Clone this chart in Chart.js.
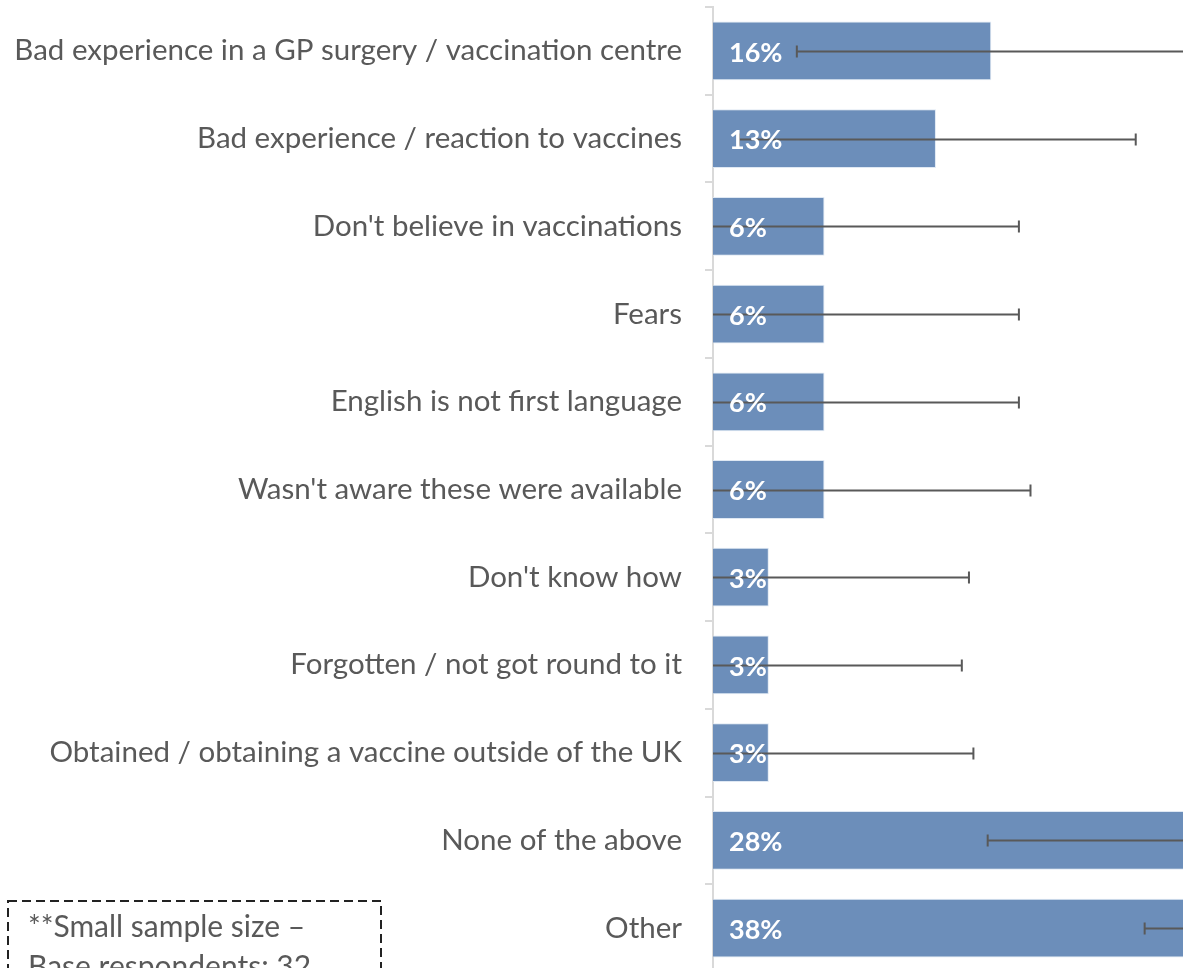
<!DOCTYPE html>
<html>
<head>
<meta charset="utf-8">
<script src="https://cdn.jsdelivr.net/npm/chart.js@4.4.1/dist/chart.umd.min.js"></script>
<style>
  html, body { margin: 0; padding: 0; background: #fff; overflow: hidden; }
  #wrap { position: relative; width: 1183px; height: 972px; }
  #note {
    position: absolute; left: 7px; top: 900px; width: 375px; height: 120px;
    box-sizing: border-box;
    font-family: Lato, sans-serif; font-size: 30px; line-height: 40px;
    color: #595959; padding: 5px 0 0 21px;
  }
  #note svg { position: absolute; left: 0; top: 0; }
</style>
</head>
<body>
<div id="wrap">
  <canvas id="myChart"></canvas>
  <div id="note">
    <svg width="375" height="120"><rect x="1" y="1" width="373" height="118" fill="none" stroke="#222" stroke-width="2" stroke-dasharray="9 5"/></svg>
    **Small sample size –<br>Base respondents: 32
  </div>
</div>
<script>
"use strict";

const categories = [
  "Bad experience in a GP surgery / vaccination centre",
  "Bad experience / reaction to vaccines",
  "Don't believe in vaccinations",
  "Fears",
  "English is not first language",
  "Wasn't aware these were available",
  "Don't know how",
  "Forgotten / not got round to it",
  "Obtained / obtaining a vaccine outside of the UK",
  "None of the above",
  "Other"
];

// percentages (base 32)
const values = [15.6, 12.5, 6.25, 6.25, 6.25, 6.25, 3.13, 3.13, 3.13, 28.1, 37.5];
const errLow = [4.7, 1.45, 0, 0, 0, 0, 0, 0, 0, 15.4, 24.2];
const errHigh = [26.5, 23.7, 17.15, 17.15, 17.15, 17.8, 14.35, 13.95, 14.6, 40.8, 50.8];

const barColor = "#6C8EBA";
const textColor = "#595959";

const errorBarPlugin = {
  id: "errorBars",
  afterDatasetsDraw(chart) {
    const ctx = chart.ctx;
    const x = chart.scales.x;
    const y = chart.scales.y;
    const area = chart.chartArea;

    ctx.save();
    ctx.beginPath();
    ctx.rect(area.left, area.top, area.right - area.left, area.bottom - area.top);
    ctx.clip();

    ctx.strokeStyle = textColor;
    ctx.lineWidth = 2;
    for (let i = 0; i < values.length; i++) {
      const yc = Math.round(y.getPixelForValue(i)) + 0.5;
      const x1 = x.getPixelForValue(errLow[i]);
      const x2 = x.getPixelForValue(errHigh[i]);
      ctx.beginPath();
      ctx.moveTo(x1, yc);
      ctx.lineTo(x2, yc);
      if (errLow[i] > 0) {
        ctx.moveTo(x1, yc - 6);
        ctx.lineTo(x1, yc + 6);
      }
      ctx.moveTo(x2, yc - 6);
      ctx.lineTo(x2, yc + 6);
      ctx.stroke();
    }

    // value labels on top
    ctx.fillStyle = "#fff";
    ctx.font = "bold 27px Lato, sans-serif";
    ctx.textAlign = "left";
    ctx.textBaseline = "middle";
    for (let i = 0; i < values.length; i++) {
      const yc = y.getPixelForValue(i);
      ctx.fillText(Math.round(values[i]) + "%", x.getPixelForValue(0) + 16, yc + 2);
    }
    ctx.restore();
  }
};

const ctx = document.getElementById("myChart").getContext("2d");
new Chart(ctx, {
  type: "bar",
  data: {
    labels: categories,
    datasets: [{
      data: values,
      backgroundColor: barColor,
      borderColor: "rgba(220, 230, 242, 0.9)",
      borderWidth: 1,
      barPercentage: 0.67,
      categoryPercentage: 1
    }]
  },
  options: {
    indexAxis: "y",
    responsive: true,
    maintainAspectRatio: false,
    animation: false,
    layout: { padding: { top: 7, left: 0, right: 0, bottom: 0 } },
    scales: {
      x: {
        display: false,
        min: 0,
        max: 26.35
      },
      y: {
        afterFit: (scale) => {
          scale.width = 713;
          scale.paddingTop = 0;
          scale.paddingBottom = 0;
        },
        grid: {
          drawOnChartArea: false,
          drawTicks: true,
          tickLength: 8,
          color: "#d9d9d9",
          lineWidth: 2
        },
        border: { display: true, color: "#d9d9d9", width: 2 },
        ticks: {
          color: textColor,
          padding: 23,
          font: { family: "Lato, sans-serif", size: 29.5 }
        }
      }
    },
    plugins: {
      legend: { display: false },
      tooltip: { enabled: false }
    }
  },
  plugins: [errorBarPlugin]
});
</script>
</body>
</html>
